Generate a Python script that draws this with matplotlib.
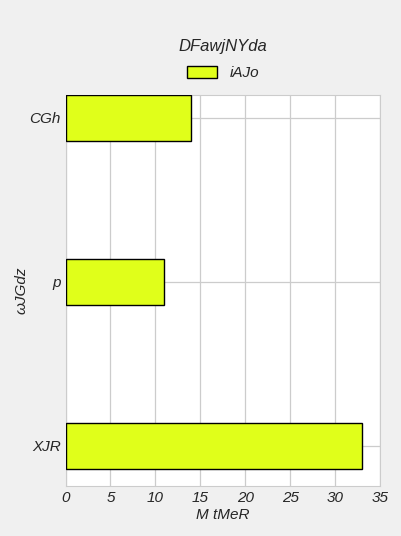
import matplotlib
matplotlib.use("Agg")
import matplotlib.pyplot as plt

categories = ["XJR", "p", "CGh"]
values = [33, 11, 14]
series_name = "iAJo"
title = "DFawjNYda"
xlabel = "M tMeR"
ylabel = "ωJGdz"
xticks = [0, 5, 10, 15, 20, 25, 30, 35]

plt.rcParams['font.family'] = ['Liberation Sans', 'DejaVu Sans']
plt.rcParams['font.style'] = 'italic'

txt = '#262626'
fig = plt.figure(figsize=(4.02, 5.36), dpi=100, facecolor='#f0f0f0')
ax = fig.add_axes([65.5/402, 1-486/536, (380-65.5)/402, (486-95)/536])
ax.set_facecolor('white')
ypos = list(range(len(categories)))
ax.barh(ypos, values, height=0.28, color='#e0ff1a', edgecolor='black', linewidth=1, label=series_name, zorder=3)
ax.set_yticks(ypos)
ax.set_yticklabels(categories, fontsize=11, color=txt)
ax.set_xticks(xticks)
ax.set_xticklabels([str(t) for t in xticks], fontsize=11, color=txt)
ax.set_xlim(0, 35)
ax.set_ylim(-0.244, 2.14)
ax.grid(True, color='#cccccc', linewidth=0.9, zorder=0)
ax.tick_params(length=0, pad=3.5)
for s in ax.spines.values():
    s.set_color('#cccccc')
ax.set_xlabel(xlabel, fontsize=11, color=txt, labelpad=2)
ax.set_ylabel(ylabel, fontsize=11, color=txt)
ax.yaxis.set_label_coords((28 - 65.5) / (380 - 65.5), 0.5)
fig.text((65.5+380)/2/402, 1-46/536, title, ha='center', va='center', fontsize=12, color=txt)
leg = fig.legend(loc='center', bbox_to_anchor=((65.5+380)/2/402, 1-73/536), frameon=False, fontsize=11, handlelength=2.0, handleheight=0.9)
for t in leg.get_texts():
    t.set_color(txt)
fig.savefig("out.png", dpi=100, facecolor=fig.get_facecolor())
